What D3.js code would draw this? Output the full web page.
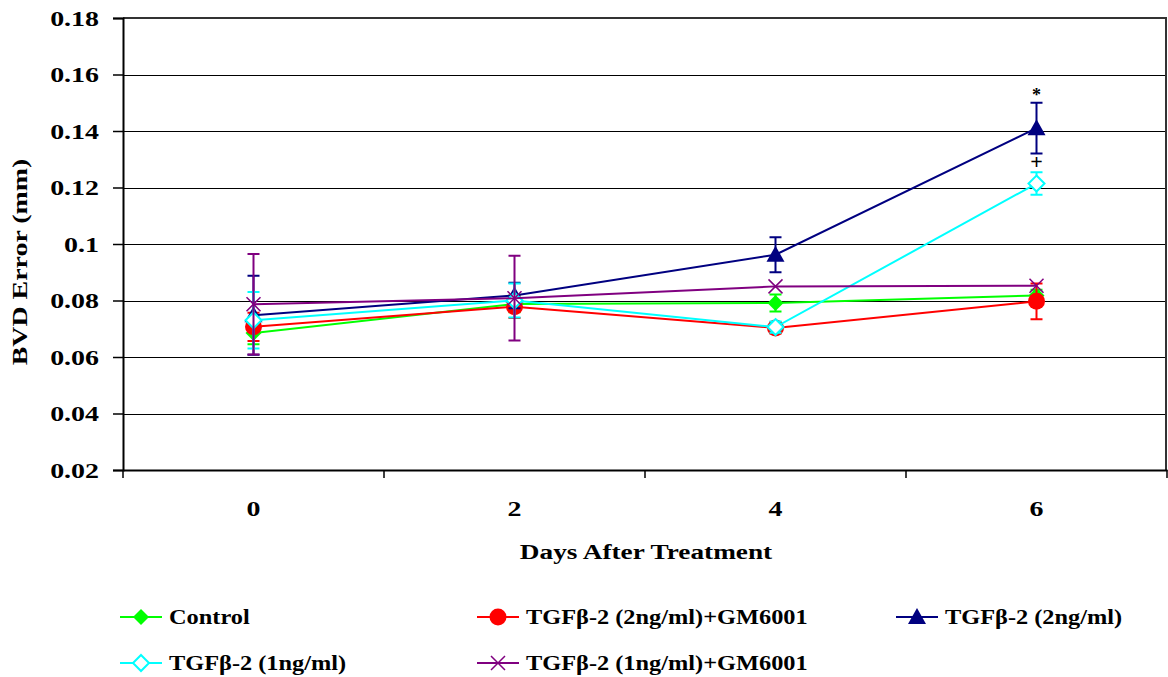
<!DOCTYPE html>
<head>
  <meta charset="utf-8">
  <script src="https://d3js.org/d3.v7.min.js"></script>
  <style>
    body {
      margin: 0;
      background: #fff;
      font-family: "Liberation Serif", "Times New Roman", serif;
      font-weight: bold;
    }
    svg text {
      font-family: "Liberation Serif", "Times New Roman", serif;
      font-weight: bold;
      fill: #000;
    }
    .grid line { stroke: #000; stroke-width: 1; shape-rendering: crispEdges; }
    .grid path { display: none; }
  </style>
</head>

<body>
  <div id="chart"></div>

  <script>
    var days = ["0", "2", "4", "6"];
    var yTicks = [0.02, 0.04, 0.06, 0.08, 0.1, 0.12, 0.14, 0.16, 0.18];

    var seriesNames = ["Control", "TGF\u03b2-2 (2ng/ml)+GM6001", "TGF\u03b2-2 (2ng/ml)",
                       "TGF\u03b2-2 (1ng/ml)", "TGF\u03b2-2 (1ng/ml)+GM6001"];

    var controlVals = [0.0685, 0.0788, 0.0791, 0.0818];
    var controlErr  = [0.0040, 0.0030, 0.0030, 0.0020];
    var gm2Vals     = [0.0707, 0.0778, 0.0703, 0.0797];
    var gm2Err      = [0.0050, 0.0040, 0.0020, 0.0063];
    var tgf2Vals    = [0.0748, 0.0818, 0.0962, 0.1410];
    var tgf2Err     = [0.0140, 0.0045, 0.0062, 0.0090];
    var tgf1Vals    = [0.0730, 0.0800, 0.0706, 0.1214];
    var tgf1Err     = [0.0100, 0.0060, 0.0020, 0.0040];
    var gm1Vals     = [0.0787, 0.0808, 0.0850, 0.0852];
    var gm1Err      = [0.0178, 0.0150, 0.0000, 0.0000];

    var colors = ["#00ff00", "#ff0000", "#000080", "#00ffff", "#800080"];
    var markers = ["diamond", "circle", "triangle", "opendiamond", "cross"];

    var series = [
      {name: seriesNames[0], vals: controlVals, err: controlErr},
      {name: seriesNames[1], vals: gm2Vals, err: gm2Err},
      {name: seriesNames[2], vals: tgf2Vals, err: tgf2Err},
      {name: seriesNames[3], vals: tgf1Vals, err: tgf1Err},
      {name: seriesNames[4], vals: gm1Vals, err: gm1Err}
    ];
    series.forEach(function(s, i) { s.color = colors[i]; s.marker = markers[i]; });

    var W = 1168, H = 677;
    var plotLeft = 123, plotRight = 1167, plotTop = 18, plotBottom = 470;

    var svg = d3.select("#chart").append("svg")
      .attr("width", W)
      .attr("height", H);

    var x = d3.scaleBand().domain(days).range([plotLeft, plotRight]);
    var y = d3.scaleLinear().domain([0.02, 0.18]).range([plotBottom, plotTop]);

    // gridlines
    svg.append("g")
      .attr("class", "grid")
      .attr("transform", "translate(" + plotLeft + ",0)")
      .call(d3.axisLeft(y).tickValues(yTicks.slice(1, -1)).tickSize(-(plotRight - plotLeft)).tickFormat(""));

    // top + right border
    svg.append("path")
      .attr("d", "M" + plotLeft + "," + plotTop + "H" + (plotRight - 1) + "V" + plotBottom)
      .attr("fill", "none")
      .attr("stroke", "#333")
      .attr("stroke-width", 2);

    // y axis
    var yAxis = svg.append("g")
      .attr("transform", "translate(" + plotLeft + ",0)")
      .call(d3.axisLeft(y).tickValues(yTicks).tickSize(10)
        .tickFormat(function(d) { return String(+d.toFixed(2)); }));
    yAxis.select(".domain").attr("stroke", "#000").attr("stroke-width", 2);
    yAxis.selectAll(".tick line").attr("stroke", "#000").attr("stroke-width", 1.5);
    yAxis.selectAll(".tick text")
      .attr("x", null)
      .attr("dy", "0.34em")
      .attr("text-anchor", "end")
      .attr("font-size", 22)
      .attr("transform", "translate(-24,0) scale(1.27,1)");

    // x axis
    var xAxis = svg.append("g")
      .attr("transform", "translate(0," + plotBottom + ")")
      .call(d3.axisBottom(x).tickSize(0));
    xAxis.select(".domain").attr("stroke", "#000").attr("stroke-width", 2);
    xAxis.selectAll(".tick text")
      .attr("y", null)
      .attr("dy", null)
      .attr("font-size", 22)
      .attr("transform", "translate(0,46) scale(1.27,1)");

    // x boundary ticks
    var bounds = days.map(function(d) { return x(d); }).concat([plotRight]);
    svg.append("g").selectAll("line")
      .data(bounds)
      .enter().append("line")
        .attr("x1", function(d) { return d; })
        .attr("x2", function(d) { return d; })
        .attr("y1", plotBottom)
        .attr("y2", plotBottom + 8)
        .attr("stroke", "#000")
        .attr("stroke-width", 1.5);

    // axis titles
    svg.append("text")
      .attr("text-anchor", "middle")
      .attr("font-size", 22)
      .attr("transform", "translate(" + ((plotLeft + plotRight) / 2 + 1) + ",559) scale(1.24,1)")
      .text("Days After Treatment");

    svg.append("text")
      .attr("text-anchor", "middle")
      .attr("font-size", 22)
      .attr("transform", "translate(27,262) rotate(-90) scale(1.27,1)")
      .text("BVD Error (mm)");

    function cx(i) { return x(days[i]) + x.bandwidth() / 2; }

    function drawMarker(g, type, color) {
      if (type === "diamond") {
        g.append("path").attr("d", "M0,-8L8,0L0,8L-8,0Z").attr("fill", color);
      } else if (type === "opendiamond") {
        g.append("path").attr("d", "M0,-8L8,0L0,8L-8,0Z")
          .attr("fill", "#fff").attr("stroke", color).attr("stroke-width", 2);
      } else if (type === "circle") {
        g.append("circle").attr("r", 8.5).attr("fill", color);
      } else if (type === "triangle") {
        g.append("path").attr("d", "M0,-9L9,7L-9,7Z").attr("fill", color);
      } else if (type === "cross") {
        g.append("path").attr("d", "M-7,-7L7,7M-7,7L7,-7")
          .attr("stroke", color).attr("stroke-width", 1.5);
      }
    }

    var line = d3.line()
      .x(function(d, i) { return cx(i); })
      .y(function(d) { return y(d); });

    var layers = svg.selectAll("g.series")
      .data(series)
      .enter().append("g")
        .attr("class", "series");

    // error bars
    layers.each(function(s) {
      var g = d3.select(this);
      s.vals.forEach(function(v, i) {
        if (!s.err[i]) return;
        var x0 = cx(i), y1 = y(v + s.err[i]), y2 = y(v - s.err[i]);
        g.append("path")
          .attr("d", "M" + x0 + "," + y1 + "V" + y2 +
                     "M" + (x0 - 6) + "," + y1 + "H" + (x0 + 6) +
                     "M" + (x0 - 6) + "," + y2 + "H" + (x0 + 6))
          .attr("fill", "none")
          .attr("stroke", s.color)
          .attr("stroke-width", 2);
      });
    });

    layers.append("path")
      .attr("d", function(s) { return line(s.vals); })
      .attr("fill", "none")
      .attr("stroke", function(s) { return s.color; })
      .attr("stroke-width", 2);

    layers.each(function(s) {
      var g = d3.select(this);
      s.vals.forEach(function(v, i) {
        drawMarker(g.append("g").attr("transform", "translate(" + cx(i) + "," + y(v) + ")"), s.marker, s.color);
      });
    });

    // significance marks
    svg.append("text")
      .attr("x", cx(3)).attr("y", y(tgf2Vals[3] + tgf2Err[3]) - 2)
      .attr("text-anchor", "middle").attr("font-size", 18)
      .text("*");
    svg.append("text")
      .attr("x", cx(3)).attr("y", y(tgf1Vals[3] + tgf1Err[3]) - 3)
      .attr("text-anchor", "middle").attr("font-size", 22)
      .text("+");

    // legend
    var legendPos = [[120, 617], [477, 617], [896, 617], [120, 663], [477, 663]];
    var legend = svg.selectAll("g.legend")
      .data(series)
      .enter().append("g")
        .attr("class", "legend")
        .attr("transform", function(s, i) { return "translate(" + legendPos[i][0] + "," + legendPos[i][1] + ")"; });

    legend.append("line")
      .attr("x1", 0).attr("x2", 42)
      .attr("stroke", function(s) { return s.color; })
      .attr("stroke-width", 2);
    legend.each(function(s) {
      drawMarker(d3.select(this).append("g").attr("transform", "translate(21,0)"), s.marker, s.color);
    });
    legend.append("text")
      .attr("font-size", 21)
      .attr("dy", "0.34em")
      .attr("transform", "translate(49,0) scale(1.16,1)")
      .text(function(s) { return s.name; });
  </script>
</body>
